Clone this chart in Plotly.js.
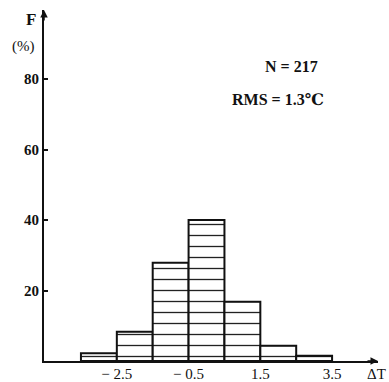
<!DOCTYPE html>
<html><head><meta charset="utf-8">
<script src="https://cdn.plot.ly/plotly-3.0.1.min.js"></script>
<style>html,body{margin:0;padding:0;background:#fff;}#c{width:389px;height:382px;}</style>
</head><body><div id="c"></div>
<script>
// Bin centres (ΔT, °C) and frequency (%)
const binCenters = [-3, -2, -1, 0, 1, 2, 3];
const freqPct = [2.2, 8.3, 27.9, 40.0, 16.8, 4.3, 1.5];
const xTickVals = [-2.5, -0.5, 1.5, 3.5];
const xTickText = ['\u2212 2.5', '\u2212 0.5', '1.5', '3.5'];
const yTickVals = [20, 40, 60, 80];

const serif = 'Liberation Serif, DejaVu Serif, serif';

const trace = {
  type: 'bar', x: binCenters, y: freqPct, width: 1,
  marker: {
    color: 'white',
    line: {color: '#111', width: 2},
    pattern: {shape: '-', size: 11, solidity: 0.12, fgcolor: '#222', bgcolor: 'white', fillmode: 'replace'}
  },
  hoverinfo: 'skip'
};

const ann = (x, y, text, size) => ({xref: 'paper', yref: 'paper', x, y, text, showarrow: false,
  xanchor: 'center', yanchor: 'middle', font: {family: serif, size, color: '#111'}});

const layout = {
  width: 389, height: 382,
  margin: {l: 44, r: 11, t: 10, b: 21},
  paper_bgcolor: 'white', plot_bgcolor: 'white',
  showlegend: false,
  bargap: 0,
  xaxis: {
    range: [-4.53, 4.78], showgrid: false, zeroline: false,
    showline: true, linecolor: '#111', linewidth: 2,
    tickvals: xTickVals, ticktext: xTickText, ticks: '',
    ticklabelstandoff: -2,
    tickfont: {family: serif, size: 15, color: '#111'}
  },
  yaxis: {
    range: [0, 99.6], showgrid: false, zeroline: false,
    showline: true, linecolor: '#111', linewidth: 2,
    tickvals: yTickVals, ticks: 'inside', ticklen: 4, tickwidth: 2, tickcolor: '#111',
    tickfont: {family: serif, size: 15, color: '#111', weight: 'bold'}
  },
  annotations: [
    ann(-0.039, 0.972, '<b>F</b>', 17),
    ann(-0.06, 0.895, '(%)', 15),
    ann(0.74, 0.838, '<b>N = 217</b>', 16),
    ann(0.70, 0.746, '<b>RMS = 1.3℃</b>', 16),
    ann(0.995, -0.037, 'ΔT', 15),
    {xref: 'paper', yref: 'paper', x: 1, y: 0, ax: -12, ay: 0, text: '', showarrow: true,
     arrowhead: 2, arrowsize: 1, arrowwidth: 1.5, arrowcolor: '#111'},
    {xref: 'paper', yref: 'paper', x: 0, y: 1, ax: 0, ay: 12, text: '', showarrow: true,
     arrowhead: 2, arrowsize: 1, arrowwidth: 1.5, arrowcolor: '#111'}
  ]
};

Plotly.newPlot('c', [trace], layout, {staticPlot: true});
</script></body></html>
